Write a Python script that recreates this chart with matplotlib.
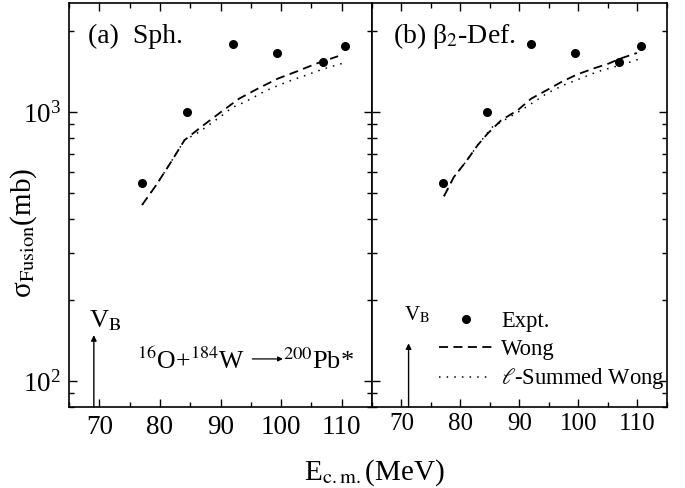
import matplotlib
matplotlib.use("Agg")
import matplotlib.pyplot as plt
from matplotlib.ticker import LogLocator, MultipleLocator, NullFormatter, LogFormatterMathtext

plt.rcParams['font.family'] = ['Liberation Serif', 'DejaVu Serif']
plt.rcParams['mathtext.fontset'] = 'stix'

# Experimental data (same for both panels)
expt_E = [77.0, 84.55, 92.0, 99.35, 106.9, 110.6]
expt_sigma = [543, 995, 1786, 1652, 1535, 1762]

# (a) spherical
wong_a_E = [77.06, 79.4, 81.85, 84.05, 86.8, 90.1, 93.1, 96.2, 99.5, 102.8, 105.8, 109.4]
wong_a_sigma = [451, 535, 652, 785, 879, 1000, 1121, 1222, 1331, 1420, 1512, 1611]
lsum_a_E = [77.06, 79.4, 81.85, 84.05, 86.5, 88.2, 90.1, 91.9, 93.7, 95.6, 97.3, 99.2, 100.9, 102.5, 104.4, 106.4, 108.0, 110.0]
lsum_a_sigma = [451, 535, 652, 785, 843, 898, 964, 1038, 1080, 1137, 1194, 1245, 1291, 1330, 1376, 1429, 1468, 1512]

# (b) beta2-deformed
wong_b_E = [77.2, 78.9, 80.9, 82.9, 84.6, 86.9, 89.7, 92.0, 94.6, 97.1, 99.7, 102.5, 105.1, 107.1, 109.9]
wong_b_sigma = [486, 574, 652, 752, 831, 931, 1015, 1121, 1204, 1292, 1376, 1449, 1512, 1579, 1656]
lsum_b_E = [77.2, 78.9, 80.9, 82.9, 85.4, 87.4, 90.3, 92.9, 94.6, 97.4, 100.3, 103.1, 106.0, 108.8, 110.5]
lsum_b_sigma = [486, 574, 652, 752, 879, 931, 1015, 1105, 1170, 1256, 1330, 1408, 1469, 1534, 1578]

# Barrier heights
VB_a = 69.1
VB_b = 71.2
VB_arrow_top_a = 148
VB_arrow_top_b = 138

xlim = (65, 115)
ylim = (80, 2540)
xticks = [70, 80, 90, 100, 110]

fig = plt.figure(figsize=(6.85, 4.88), dpi=100)
axL = fig.add_axes([69/685, 1-407/488, 303/685, 404/488])
axR = fig.add_axes([372/685, 1-407/488, 295/685, 404/488])

dash_style = (0, (5, 3))
dot_style = (0, (1, 4))

panels = [
    (axL, wong_a_E, wong_a_sigma, lsum_a_E, lsum_a_sigma, 19.5, 6),
    (axR, wong_b_E, wong_b_sigma, lsum_b_E, lsum_b_sigma, 18, 4.5),
]
handles = None
for ax, wE, wS, lE, lS, tfs, tpad in panels:
    h1, = ax.plot(expt_E, expt_sigma, 'o', color='black', ms=5.5, label='Expt.')
    h2, = ax.plot(wE, wS, linestyle=dash_style, color='black', lw=1.3, label='Wong')
    h3, = ax.plot(lE, lS, linestyle=dot_style, color='black', lw=1.1, label=r'$\ell$-Summed Wong')
    handles = [h1, h2, h3]
    ax.set_yscale('log')
    ax.set_xlim(*xlim)
    ax.set_ylim(*ylim)
    ax.set_xticks(xticks)
    ax.xaxis.set_minor_locator(MultipleLocator(5))
    ax.yaxis.set_major_locator(LogLocator(base=10))
    ax.yaxis.set_minor_locator(LogLocator(base=10, subs=range(2, 10)))
    ax.yaxis.set_minor_formatter(NullFormatter())
    ax.tick_params(which='both', direction='in', top=True, right=True, width=1.0)
    ax.tick_params(which='major', length=6)
    ax.tick_params(which='minor', length=3.5)
    ax.tick_params(axis='x', labelsize=tfs, pad=tpad)
    for s in ax.spines.values():
        s.set_linewidth(1.2)

axL.yaxis.set_major_formatter(LogFormatterMathtext())
axL.tick_params(axis='y', labelsize=19.5, pad=6)
axR.tick_params(axis='y', labelleft=False)

# Panel labels
axL.text(0.063, 0.901, '(a)  Sph.', transform=axL.transAxes, fontsize=20, va='baseline', ha='left')
axR.text(0.071, 0.901, '(b) β$_2$-Def.', transform=axR.transAxes, fontsize=20, va='baseline', ha='left')

# VB arrows
axL.annotate('', xy=(VB_a, VB_arrow_top_a), xytext=(VB_a, ylim[0]),
             arrowprops=dict(arrowstyle='-|>', lw=1.0, color='black', mutation_scale=8, shrinkA=0, shrinkB=0))
axR.annotate('', xy=(VB_b, VB_arrow_top_b), xytext=(VB_b, ylim[0]),
             arrowprops=dict(arrowstyle='-|>', lw=1.0, color='black', mutation_scale=8, shrinkA=0, shrinkB=0))
axL.text(0.066, 0.198, 'V$_{\\rm B}$', transform=axL.transAxes, fontsize=19, va='baseline', ha='left')
axR.text(0.110, 0.215, 'V$_{\\rm B}$', transform=axR.transAxes, fontsize=15, va='baseline', ha='left')

# Reaction label
axL.text(0.2244, 0.094, '$^{16}$O+$^{184}$W', transform=axL.transAxes, fontsize=18.5, va='baseline', ha='left')
axL.annotate('', xy=(0.706, 0.119), xytext=(0.605, 0.119), xycoords='axes fraction', textcoords='axes fraction',
             arrowprops=dict(arrowstyle='-|>', lw=0.9, color='black', mutation_scale=7, shrinkA=0, shrinkB=0))
axL.text(0.706, 0.094, '$^{200}$Pb*', transform=axL.transAxes, fontsize=19, va='baseline', ha='left')

# Legend
axR.legend(handles=handles, loc='upper left', bbox_to_anchor=(0.227, 0.238), frameon=False,
           fontsize=16.3, handlelength=2.35, handletextpad=0.4, labelspacing=0.3,
           borderpad=0, borderaxespad=0)

# Axis labels
axL.set_ylabel('σ$_{\\rm Fusion}$(mb)', fontsize=21)
axL.yaxis.set_label_coords(-0.10, 0.43)
fig.text(374/685, 1-480/488, 'E$_{\\rm c.m.}$(MeV)', fontsize=21, ha='center', va='baseline')

fig.savefig('out.png', dpi=100)
